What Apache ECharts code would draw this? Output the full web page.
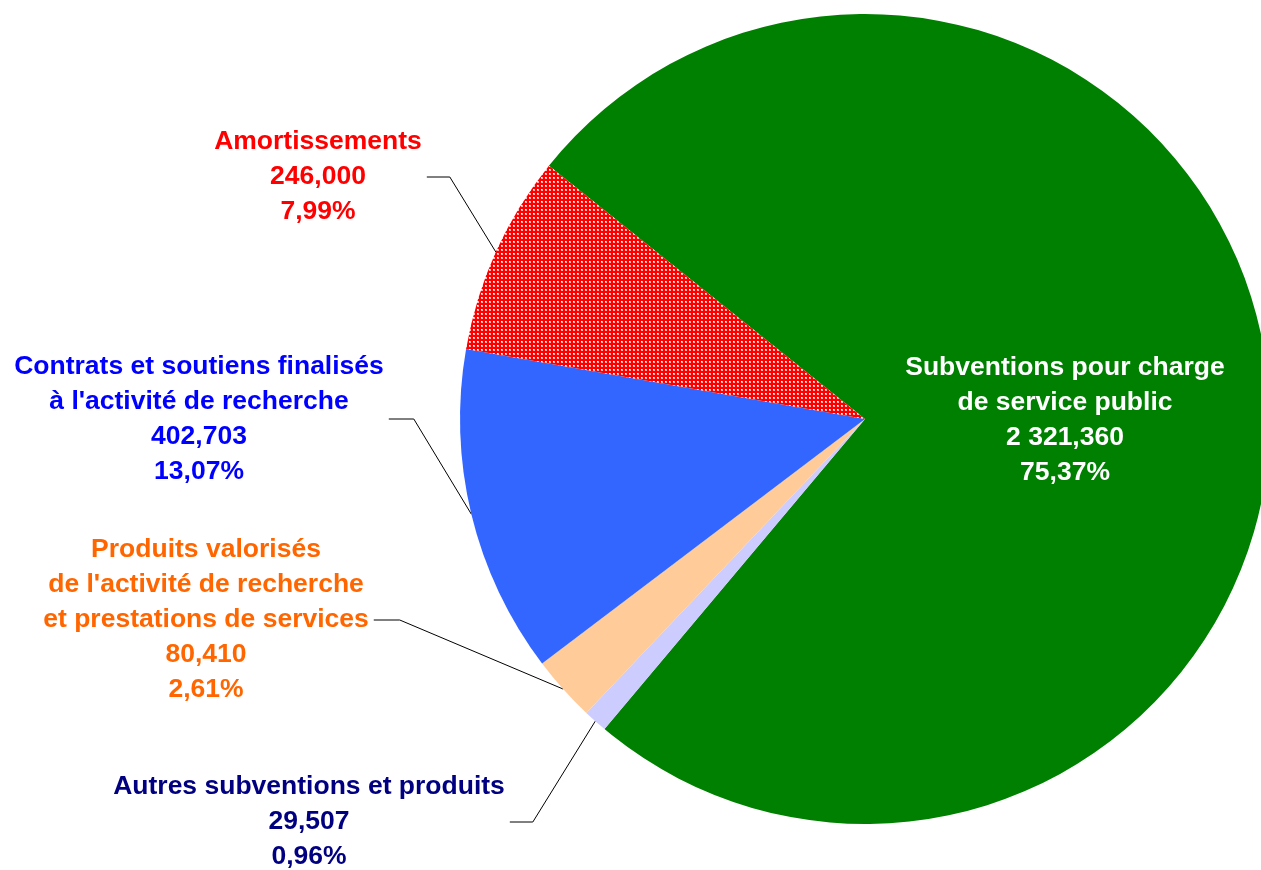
<!DOCTYPE html>
<html>
<head>
<meta charset="utf-8">
<script src="https://cdn.jsdelivr.net/npm/echarts@6/dist/echarts.min.js"></script>
<style>
html,body{margin:0;padding:0;background:#fff;}
#chart{width:1261px;height:870px;}
</style>
</head>
<body>
<div id="chart"></div>
<script>
// ---- data ----
var categories = [
  'Subventions pour charge\nde service public',
  'Autres subventions et produits',
  'Produits valorisés\nde l\'activité de recherche\net prestations de services',
  'Contrats et soutiens finalisés\nà l\'activité de recherche',
  'Amortissements'
];
var values = [2321.360, 29.507, 80.410, 402.703, 246.000];

// ---- styling (not data) ----
var sliceColors = ['#008000', '#CCCCFF', '#FFCC99', '#3366FF', 'PATTERN'];
var labelColors = ['#FFFFFF', '#000080', '#FF6600', '#0000FF', '#FF0000'];
var labelCenters = [[1065, 420], [309, 822], [206, 620], [199, 419], [318, 177]];
var leaderLen2 = [0, 23, 26, 25, 23];

function dotPattern() {
  var c = document.createElement('canvas');
  c.width = 4; c.height = 4;
  var g = c.getContext('2d');
  g.fillStyle = '#FF0000'; g.fillRect(0, 0, 4, 4);
  g.fillStyle = '#FFB8B8'; g.fillRect(1, 1, 2, 2);
  g.fillStyle = '#FFFFFF'; g.fillRect(1, 1, 1, 1);
  return c;
}

function fmtValue(v) {
  var s = v.toFixed(3).split('.');
  var intPart = s[0].replace(/\B(?=(\d{3})+(?!\d))/g, ' ');
  return intPart + ',' + s[1];
}

var data = categories.map(function (name, i) {
  var color = sliceColors[i] === 'PATTERN' ? { image: dotPattern(), repeat: 'repeat' } : sliceColors[i];
  return {
    name: name,
    value: values[i],
    itemStyle: { color: color },
    label: {
      position: i === 0 ? 'inside' : 'outside',
      color: labelColors[i],
      padding: [0, 5]
    },
    labelLine: {
      show: i !== 0,
      length: 10,
      length2: leaderLen2[i],
      lineStyle: { color: '#000000', width: 1 }
    }
  };
});

var chart = echarts.init(document.getElementById('chart'), null, { renderer: 'canvas' });
chart.setOption({
  animation: false,
  backgroundColor: '#FFFFFF',
  series: [{
    type: 'pie',
    center: [865, 419],
    radius: 405,
    startAngle: 141.3,
    clockwise: true,
    avoidLabelOverlap: false,
    percentPrecision: 2,
    emphasis: { disabled: true },
    label: {
      show: true,
      fontFamily: 'Liberation Sans, Arial, sans-serif',
      fontWeight: 'bold',
      fontSize: 26.5,
      lineHeight: 35,
      align: 'center',
      formatter: function (p) {
        return p.name + '\n' + fmtValue(p.value) + '\n' + p.percent.toFixed(2).replace('.', ',') + '%';
      }
    },
    labelLayout: function (params) {
      var c = labelCenters[params.dataIndex];
      return { x: c[0], y: c[1], align: 'center', verticalAlign: 'middle' };
    },
    data: data
  }]
});
</script>
</body>
</html>
